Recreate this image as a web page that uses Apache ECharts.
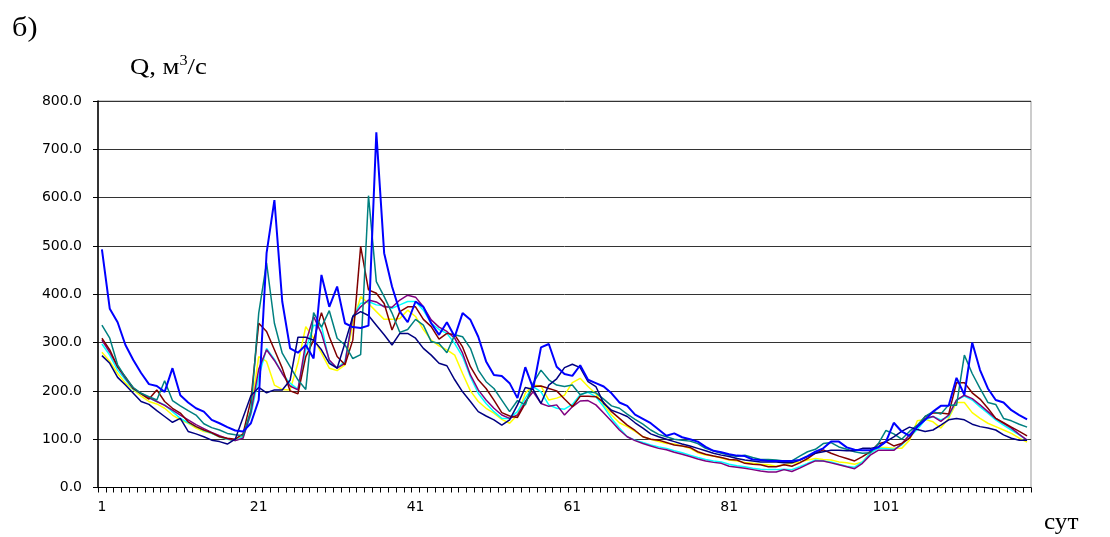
<!DOCTYPE html>
<html>
<head>
<meta charset="utf-8">
<script src="https://cdn.jsdelivr.net/npm/echarts@6/dist/echarts.min.js"></script>
<style>
  html, body { margin: 0; padding: 0; background: #fff; }
  #container { width: 1110px; height: 537px; }
</style>
</head>
<body>
<div id="container"></div>
<script>
// days 1..119
var days = [];
for (var i = 1; i <= 119; i++) { days.push(String(i)); }

var yTicks = [0, 100, 200, 300, 400, 500, 600, 700, 800];

var blue = [
  493, 370, 342, 295, 264, 237, 214, 210, 198, 247,
  191, 176, 164, 157, 140, 133, 125, 118, 116, 133,
  181, 485, 595, 385, 288, 279, 295, 267, 440, 374,
  416, 340, 332, 330, 335, 735, 485, 416, 364, 342,
  385, 374, 340, 316, 342, 312, 361, 347, 312, 261,
  233, 231, 216, 185, 249, 205, 290, 297, 250, 235,
  231, 253, 223, 216, 209, 195, 176, 169, 151, 142,
  133, 120, 107, 112, 104, 100, 95, 84, 76, 73,
  69, 66, 65, 58, 57, 55, 55, 55, 55, 57,
  65, 74, 81, 95, 95, 83, 78, 77, 77, 83,
  95, 134, 116, 107, 126, 140, 157, 169, 169, 227,
  192, 300, 243, 205, 181, 176, 160, 150, 141
];
var navy = [
  273, 257, 228, 212, 195, 178, 172, 159, 147, 135,
  143, 116, 111, 105, 98, 95, 90, 100, 145, 190,
  207, 196, 202, 202, 222, 311, 311, 305, 285, 257,
  247, 299, 354, 364, 356, 336, 316, 295, 319, 319,
  309, 288, 274, 257, 252, 223, 198, 178, 157, 148,
  140, 129, 140, 171, 207, 203, 174, 212, 225, 248,
  255, 248, 219, 209, 174, 160, 154, 147, 134, 123,
  111, 105, 100, 95, 90, 86, 81, 76, 71, 67,
  64, 60, 57, 55, 53, 53, 53, 51, 51, 57,
  64, 71, 74, 77, 77, 76, 76, 81, 81, 84,
  95, 105, 116, 125, 120, 116, 119, 129, 140, 143,
  140, 131, 126, 123, 119, 109, 102, 98, 98
];
var teal = [
  336, 309, 254, 228, 207, 195, 188, 181, 221, 180,
  169, 159, 150, 132, 124, 119, 112, 109, 107, 160,
  361, 465, 340, 278, 250, 223, 203, 362, 332, 366,
  309, 295, 267, 275, 604, 426, 395, 361, 321, 327,
  348, 336, 302, 298, 279, 316, 312, 288, 243, 219,
  205, 181, 157, 180, 171, 216, 243, 223, 212, 209,
  212, 192, 198, 196, 183, 169, 164, 152, 141, 131,
  119, 110, 105, 100, 98, 96, 91, 81, 76, 71,
  67, 64, 67, 62, 58, 58, 57, 55, 55, 65,
  74, 79, 91, 93, 84, 79, 74, 71, 72, 90,
  118, 111, 100, 116, 129, 147, 157, 152, 171, 170,
  274, 236, 205, 176, 172, 143, 138, 131, 125
];
var darkRed = [
  309, 285, 250, 229, 205, 194, 183, 202, 178, 164,
  154, 136, 126, 119, 113, 105, 102, 100, 111, 181,
  340, 323, 285, 247, 200, 194, 271, 305, 362, 312,
  271, 254, 305, 499, 409, 402, 381, 326, 364, 374,
  374, 348, 333, 307, 319, 316, 291, 250, 223, 205,
  181, 155, 148, 145, 174, 209, 210, 205, 200, 183,
  167, 189, 189, 188, 176, 157, 143, 129, 118, 105,
  100, 98, 93, 88, 86, 83, 74, 69, 65, 62,
  58, 57, 50, 48, 47, 43, 43, 47, 44, 51,
  60, 71, 78, 71, 65, 60, 55, 64, 74, 90,
  95, 86, 91, 102, 126, 147, 154, 154, 152, 217,
  217, 196, 183, 164, 143, 134, 125, 116, 107
];
var yellow = [
  280, 261, 236, 216, 202, 189, 178, 173, 164, 150,
  140, 133, 123, 116, 112, 105, 100, 97, 107, 160,
  271, 261, 212, 203, 202, 257, 333, 309, 278, 247,
  242, 254, 340, 395, 381, 364, 348, 348, 350, 367,
  354, 327, 305, 293, 285, 274, 236, 200, 178, 164,
  154, 141, 133, 150, 195, 212, 210, 181, 185, 191,
  217, 226, 209, 194, 171, 150, 134, 126, 116, 105,
  100, 95, 91, 90, 86, 81, 72, 67, 65, 61,
  57, 55, 52, 50, 48, 47, 44, 47, 50, 53,
  57, 60, 58, 57, 53, 51, 48, 53, 71, 83,
  83, 81, 81, 98, 138, 141, 136, 123, 143, 176,
  176, 155, 143, 133, 126, 119, 112, 102, 94
];
var cyan = [
  297, 274, 243, 223, 203, 194, 185, 178, 171, 157,
  143, 134, 126, 118, 112, 105, 100, 97, 105, 150,
  229, 288, 265, 236, 216, 203, 285, 336, 335, 261,
  247, 261, 354, 381, 385, 378, 376, 371, 378, 385,
  385, 367, 340, 327, 319, 298, 271, 229, 195, 174,
  157, 143, 143, 157, 185, 209, 198, 171, 164, 162,
  172, 192, 197, 188, 167, 143, 123, 105, 98, 93,
  88, 84, 81, 76, 72, 67, 62, 58, 55, 53,
  48, 45, 43, 40, 38, 37, 37, 38, 37, 43,
  50, 57, 55, 53, 48, 44, 42, 53, 71, 81,
  80, 79, 88, 104, 120, 140, 147, 140, 147, 181,
  189, 181, 167, 154, 140, 129, 119, 109, 98
];
var purple = [
  305, 280, 250, 226, 205, 195, 186, 178, 170, 160,
  150, 140, 130, 122, 114, 107, 101, 97, 102, 155,
  245, 285, 263, 236, 210, 202, 300, 354, 319, 264,
  247, 257, 354, 374, 388, 384, 374, 373, 388, 398,
  394, 374, 347, 332, 323, 309, 278, 233, 202, 181,
  164, 150, 143, 150, 178, 198, 174, 168, 171, 150,
  167, 179, 180, 171, 154, 137, 119, 105, 97, 91,
  86, 81, 78, 73, 69, 64, 59, 55, 52, 50,
  44, 42, 40, 37, 34, 32, 32, 37, 33, 40,
  48, 55, 55, 51, 47, 43, 39, 50, 67, 77,
  77, 77, 90, 109, 126, 143, 147, 137, 150, 181,
  191, 184, 171, 157, 143, 133, 123, 110, 98
];

var chart = echarts.init(document.getElementById('container'));

function line(name, data, color, width) {
  return {
    name: name,
    type: 'line',
    data: data,
    symbol: 'none',
    lineStyle: { color: color, width: width },
    itemStyle: { color: color }
  };
}

chart.setOption({
  animation: false,
  backgroundColor: '#fff',
  grid: {
    left: 98, top: 101, width: 933, height: 386.5,
    show: true, borderColor: '#999', borderWidth: 1
  },
  xAxis: {
    type: 'category',
    data: days,
    boundaryGap: true,
    axisLine: { lineStyle: { color: '#000', width: 1 } },
    axisTick: { show: true, interval: 0, length: 5, lineStyle: { color: '#000' } },
    axisLabel: {
      interval: 19, margin: 13, color: '#000',
      fontFamily: 'DejaVu Sans', fontSize: 14
    },
    splitLine: { show: false }
  },
  yAxis: {
    type: 'value',
    min: yTicks[0],
    max: yTicks[yTicks.length - 1],
    interval: 100,
    axisLine: { show: true, lineStyle: { color: '#000', width: 1.5 } },
    axisTick: { show: true, length: 5, lineStyle: { color: '#000' } },
    axisLabel: {
      margin: 16, color: '#000',
      fontFamily: 'DejaVu Sans', fontSize: 14,
      formatter: function (v) { return v.toFixed(1); }
    },
    splitLine: { lineStyle: { color: '#333', width: 1 } }
  },
  series: [
    line('yellow', yellow, '#FFFF00', 1.5),
    line('cyan', cyan, '#00FFFF', 1.5),
    line('purple', purple, '#800080', 1.5),
    line('darkred', darkRed, '#800000', 1.5),
    line('teal', teal, '#008080', 1.5),
    line('navy', navy, '#000080', 1.5),
    line('blue', blue, '#0000FF', 2)
  ],
  graphic: [
    {
      type: 'text', left: 12, top: 15, scaleX: 1.12,
      style: { text: 'б)', font: '27px "Liberation Serif"', fill: '#000' }
    },
    {
      type: 'text', left: 130, top: 54, scaleX: 1.16,
      style: {
        text: '{a|Q, м}{b|3}{a|/с}',
        rich: {
          a: { fontFamily: 'Liberation Serif', fontSize: 23, color: '#000', lineHeight: 25, verticalAlign: 'bottom' },
          b: { fontFamily: 'Liberation Serif', fontSize: 14, color: '#000', lineHeight: 25, verticalAlign: 'top' }
        }
      }
    },
    {
      type: 'text', left: 1044, top: 511, scaleX: 1.05,
      style: { text: 'сут', font: '24px "Liberation Serif"', fill: '#000' }
    }
  ]
});
</script>
</body>
</html>
